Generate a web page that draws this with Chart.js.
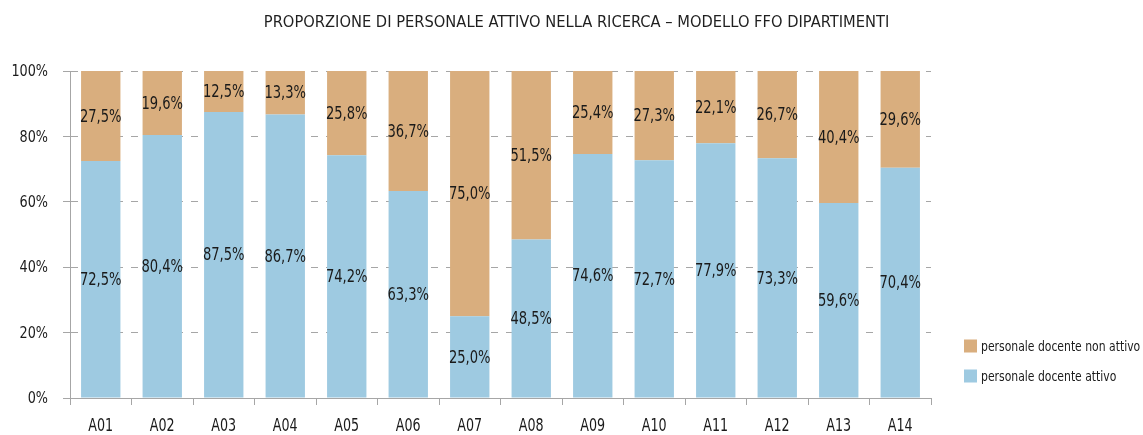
<!DOCTYPE html>
<html lang="it">
<head>
<meta charset="utf-8">
<title>Proporzione di personale attivo nella ricerca</title>
<script src="https://cdn.jsdelivr.net/npm/chart.js@4/dist/chart.umd.min.js"></script>
<style>
  html, body { margin: 0; padding: 0; background: #ffffff; }
  #wrap { width: 1143px; height: 435px; }
</style>
</head>
<body>
<div id="wrap"><canvas id="chart" width="1143" height="435"></canvas></div>
<script>
// Dipartimenti (aree CUN)
const categories = ['A01', 'A02', 'A03', 'A04', 'A05', 'A06', 'A07', 'A08', 'A09', 'A10', 'A11', 'A12', 'A13', 'A14'];

// Quota percentuale di personale docente attivo nella ricerca
const attivo = [72.5, 80.4, 87.5, 86.7, 74.2, 63.3, 25.0, 48.5, 74.6, 72.7, 77.9, 73.3, 59.6, 70.4];

// Quota percentuale di personale docente non attivo
const nonAttivo = [27.5, 19.6, 12.5, 13.3, 25.8, 36.7, 75.0, 51.5, 25.4, 27.3, 22.1, 26.7, 40.4, 29.6];

// Etichette dell'asse verticale
const yTicks = [0, 20, 40, 60, 80, 100];

const seriesNames = ['personale docente attivo', 'personale docente non attivo'];
const chartTitle = 'PROPORZIONE DI PERSONALE ATTIVO NELLA RICERCA \u2013 MODELLO FFO DIPARTIMENTI';

const FONT = '"DejaVu Sans Condensed", "DejaVu Sans", sans-serif';
const TEXT = '#1a1a1a';
const BLUE = '#9ecae1';
const TAN = '#d9ae7e';
const AXIS = '#a6a6a6';

const fmtPct = v => v.toFixed(1).replace('.', ',') + '%';

// Testo compresso orizzontalmente (carattere stretto)
function narrowText(ctx, text, x, y, sx, align) {
  ctx.save();
  ctx.translate(x, y);
  ctx.scale(sx, 1);
  ctx.textAlign = align;
  ctx.textBaseline = 'middle';
  ctx.fillText(text, 0, 0);
  ctx.restore();
}

// Titolo centrato sull'intera tela
const topTitle = {
  id: 'topTitle',
  afterDraw(chart) {
    const { ctx, width } = chart;
    ctx.save();
    ctx.font = '16px ' + FONT;
    ctx.fillStyle = '#1f1f1f';
    narrowText(ctx, chartTitle, width / 2 + 5, 23, 1.02, 'center');
    ctx.restore();
  }
};

// Etichette degli assi, disegnate in posizione dalle scale del grafico
const axisLabels = {
  id: 'axisLabels',
  afterDraw(chart) {
    const { ctx, chartArea } = chart;
    const xs = chart.scales.x;
    const ys = chart.scales.y;
    ctx.save();
    ctx.fillStyle = TEXT;
    ctx.font = '17px ' + FONT;
    xs.ticks.forEach((t, i) => {
      narrowText(ctx, xs.getLabelForValue(t.value), xs.getPixelForTick(i), chartArea.bottom + 29, 0.83, 'center');
    });
    ctx.font = '16px ' + FONT;
    ys.ticks.forEach(t => {
      narrowText(ctx, t.value + '%', ys.right - 22, ys.getPixelForValue(t.value) + 1, 0.89, 'right');
    });
    ctx.restore();
  }
};

// Valore scritto al centro di ogni segmento della barra
const segmentLabels = {
  id: 'segmentLabels',
  afterDatasetsDraw(chart) {
    const { ctx } = chart;
    ctx.save();
    ctx.font = '18px ' + FONT;
    ctx.fillStyle = TEXT;
    chart.data.datasets.forEach((ds, i) => {
      const meta = chart.getDatasetMeta(i);
      if (meta.hidden) return;
      meta.data.forEach((bar, j) => {
        const { x, y, base } = bar.getProps(['x', 'y', 'base'], true);
        narrowText(ctx, fmtPct(ds.data[j]), x, (y + base) / 2 + 1, 0.81, 'center');
      });
    });
    ctx.restore();
  }
};

// Legenda a destra, in basso, con la serie superiore per prima
const sideLegend = {
  id: 'sideLegend',
  afterDraw(chart) {
    const { ctx, chartArea } = chart;
    const items = chart.data.datasets.slice().reverse();
    const x0 = chartArea.right + 33;
    const yStart = chartArea.bottom - 52;
    ctx.save();
    ctx.font = '14px ' + FONT;
    items.forEach((ds, k) => {
      const yc = yStart + k * 30;
      ctx.fillStyle = ds.backgroundColor;
      ctx.fillRect(x0, yc - 6.5, 13, 13);
      ctx.fillStyle = TEXT;
      narrowText(ctx, ds.label, x0 + 17, yc + 1, 0.86, 'left');
    });
    ctx.restore();
  }
};

new Chart(document.getElementById('chart'), {
  type: 'bar',
  data: {
    labels: categories,
    datasets: [
      { label: seriesNames[0], data: attivo, backgroundColor: BLUE, borderWidth: 0 },
      { label: seriesNames[1], data: nonAttivo, backgroundColor: TAN, borderWidth: 0 }
    ]
  },
  options: {
    responsive: false,
    animation: false,
    layout: { padding: { top: 71, right: 212, bottom: 0, left: 0 } },
    datasets: {
      bar: { categoryPercentage: 1.0, barPercentage: 0.64 }
    },
    plugins: {
      legend: { display: false },
      tooltip: { enabled: false },
      title: { display: false }
    },
    scales: {
      x: {
        stacked: true,
        afterFit(scale) { scale.height = 37; },
        grid: {
          display: true,
          drawOnChartArea: false,
          drawTicks: true,
          tickLength: 7,
          color: AXIS,
          offset: true
        },
        border: { display: true, color: AXIS, width: 1 },
        ticks: { display: false }
      },
      y: {
        stacked: true,
        min: 0,
        max: 100,
        afterFit(scale) { scale.width = 70; },
        afterBuildTicks(scale) { scale.ticks = yTicks.map(v => ({ value: v })); },
        grid: {
          display: true,
          drawOnChartArea: true,
          drawTicks: true,
          tickLength: 7,
          color: AXIS,
          tickColor: AXIS,
          tickBorderDash: []
        },
        border: { display: true, color: AXIS, width: 1, dash: [7, 8] },
        ticks: { display: false }
      }
    }
  },
  plugins: [segmentLabels, axisLabels, sideLegend, topTitle]
});
</script>
</body>
</html>
